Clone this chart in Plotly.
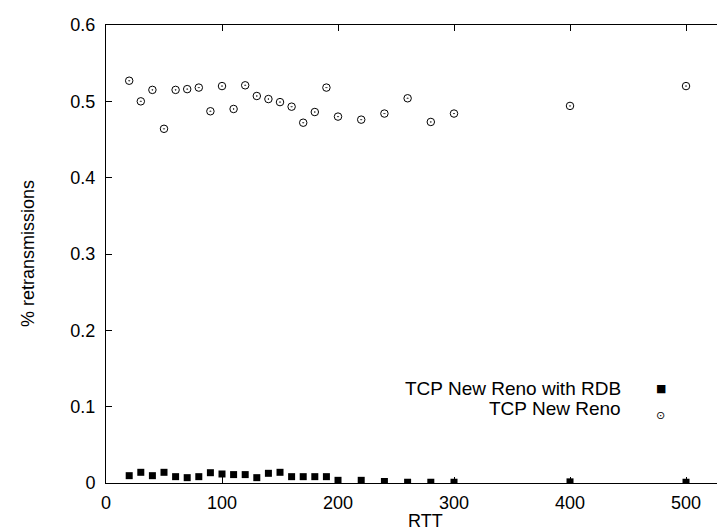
import plotly.graph_objects as go

rtt = [20, 30, 40, 50, 60, 70, 80, 90, 100, 110, 120, 130, 140, 150, 160, 170, 180, 190, 200,
       220, 240, 260, 280, 300, 400, 500]

rdb = [0.0096, 0.014, 0.0096, 0.014, 0.0083, 0.007, 0.0083, 0.0135, 0.0118, 0.011, 0.011, 0.007,
       0.0127, 0.014, 0.0083, 0.0083, 0.0083, 0.0083, 0.0035,
       0.0035, 0.002, 0.001, 0.001, 0.001, 0.0015, 0.001]

newreno = [0.527, 0.500, 0.515, 0.464, 0.515, 0.516, 0.518, 0.487, 0.520, 0.490, 0.521, 0.507,
           0.503, 0.499, 0.493, 0.472, 0.486, 0.518, 0.480,
           0.476, 0.484, 0.504, 0.473, 0.484, 0.494, 0.520]

x_ticks = [0, 100, 200, 300, 400, 500]
y_ticks = [0, 0.1, 0.2, 0.3, 0.4, 0.5, 0.6]
y_tick_labels = ["0", "0.1", "0.2", "0.3", "0.4", "0.5", "0.6"]

series_names = ["TCP New Reno with RDB", "TCP New Reno"]
x_title = "RTT"
y_title = "% retransmissions"

FONT = "Liberation Sans, Arial, Helvetica, sans-serif"

fig = go.Figure()
fig.add_trace(go.Scatter(
    x=rtt, y=rdb, mode="markers", name=series_names[0],
    marker=dict(symbol="square", size=7, color="black", line=dict(width=0)),
    showlegend=False,
))
fig.add_trace(go.Scatter(
    x=rtt, y=newreno, mode="markers", name=series_names[1],
    marker=dict(symbol="circle-open-dot", size=7.5, color="black", line=dict(width=1, color="black")),
    showlegend=False,
))

fig.update_layout(
    width=725, height=532,
    margin=dict(l=98, r=0, t=17, b=57, pad=0),
    paper_bgcolor="white", plot_bgcolor="white",
    font=dict(family=FONT, size=18, color="black"),
    showlegend=False,
)

fig.update_xaxes(
    range=[0, 540.5], tickvals=x_ticks, ticks="inside", ticklen=6, tickwidth=1, tickcolor="black",
    showline=True, linecolor="black", linewidth=1, mirror="ticks", showgrid=False, zeroline=False,
    ticklabelstandoff=3,
)
fig.update_yaxes(
    range=[0, 0.6], tickvals=y_ticks, ticktext=y_tick_labels, ticks="inside", ticklen=6, tickwidth=1,
    tickcolor="black", showline=True, linecolor="black", linewidth=1, mirror=False,
    showgrid=False, zeroline=False, ticklabelstandoff=6,
)

# axis titles
fig.add_annotation(xref="paper", yref="paper", x=0.509, y=-0.084, text=x_title,
                   showarrow=False, xanchor="center", yanchor="middle", font=dict(size=18))
fig.add_annotation(xref="paper", yref="paper", x=-0.1244, y=0.5, text=y_title, textangle=-90,
                   showarrow=False, xanchor="center", yanchor="middle", font=dict(size=18))

# legend (gnuplot style: text right-aligned, key to the right)
leg_y = [0.207, 0.163]
fig.add_annotation(xref="paper", yref="paper", x=0.8245, y=leg_y[0], text=series_names[0],
                   showarrow=False, xanchor="right", yanchor="middle", font=dict(size=19))
fig.add_annotation(xref="paper", yref="paper", x=0.8245, y=leg_y[1], text=series_names[1],
                   showarrow=False, xanchor="right", yanchor="middle", font=dict(size=19))
fig.add_annotation(xref="paper", yref="paper", x=0.885, y=leg_y[0], text="■",
                   showarrow=False, xanchor="center", yanchor="middle",
                   font=dict(size=11, family="DejaVu Sans", color="black"))
fig.add_annotation(xref="paper", yref="paper", x=0.885, y=leg_y[1] - 0.015, text="⊙",
                   showarrow=False, xanchor="center", yanchor="middle",
                   font=dict(size=11, family="DejaVu Sans", color="black"))

fig.write_html("out.html")
